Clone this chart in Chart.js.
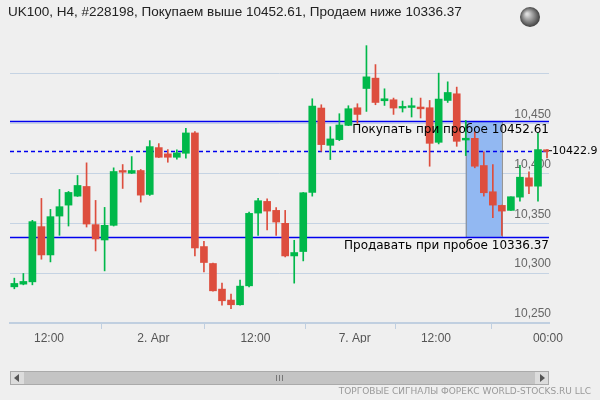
<!DOCTYPE html>
<html><head><meta charset="utf-8">
<script src="https://cdn.jsdelivr.net/npm/chart.js@4"></script>
<style>html,body{margin:0;padding:0;background:#efefef}canvas{display:block}</style>
</head><body><canvas id="c" width="600" height="400"></canvas>
<script>
const opens  = [10286.3,10289,10291.3,10346.7,10318.3,10357.3,10368.3,10377.3,10387,10348.7,10333.3,10348,10403,10400.3,10403,10379,10426,10419.7,10416.3,10420.3,10440.7,10326.7,10309.7,10284,10273,10268.3,10287.3,10360.3,10372,10363,10350,10317.3,10321.7,10381,10465.7,10428.3,10434,10448.3,10466,10485.3,10495.7,10473,10474,10465.7,10466.3,10466.3,10466,10431.3,10473.3,10480,10434,10435.3,10408,10381.7,10368,10363,10376.3,10395.7,10387.3,10423];
const highs  = [10295,10299.7,10353,10375,10364,10384,10382,10398,10410.7,10373,10366,10405.7,10409,10417,10404,10433,10430,10424,10423.7,10445.3,10442,10332,10310,10290,10279,10293,10361.3,10375,10374.7,10365.7,10363,10333,10381,10475,10469,10447,10460,10468,10470,10528.3,10509.3,10485,10475.7,10472.7,10475.7,10475.7,10473.3,10500.7,10492,10486.7,10453.3,10441.7,10421.7,10409,10368.3,10376.7,10408.3,10401.7,10440.7,10424];
const lows   = [10284.3,10288.3,10288.3,10314,10311.3,10338,10347.3,10377,10346.3,10322.3,10302.3,10347.3,10385,10400,10371.3,10378,10416,10411.3,10414.3,10415.3,10317.3,10301.3,10282,10268,10264.3,10268,10286.3,10338,10343.3,10338,10316.3,10290,10312.3,10377.3,10422.3,10414,10433,10448,10450.3,10462.3,10469,10468.3,10459.3,10461.7,10456.7,10455.7,10407.3,10429.7,10471.3,10427.3,10418,10405.7,10377.3,10355.7,10338,10363,10372.3,10379.7,10372.3,10415.7];
const closes = [10289.7,10291.7,10351.7,10318.3,10356.7,10366.7,10381,10388,10349.3,10334.3,10348,10402,10401.3,10403,10378.3,10427,10416.3,10416.3,10420.7,10440.7,10325.3,10310.7,10282.3,10272.3,10268.3,10287,10360,10372.7,10362.3,10351.3,10317.3,10320.7,10380.7,10467.7,10429,10434.7,10448.7,10465,10459.3,10497,10471.3,10475,10465.7,10467.3,10468,10465.3,10430.3,10474.7,10481.3,10432.3,10435,10407.3,10380.7,10368.3,10362.3,10376.7,10396.3,10387.3,10424,10422.9];
const tickPos = [4.84,16.4,27.7,38.7,47.7,60.1];
const tickLabels = ['12:00','2. Apr','12:00','7. Apr','12:00','00:00'];
const buyLevel = 10452.61, sellLevel = 10336.37, lastPrice = 10422.9;
const zoneFrom = 51, zoneTo = 55;
const title = 'UK100, H4, #228198, Покупаем выше 10452.61, Продаем ниже 10336.37';
const footer = 'ТОРГОВЫЕ СИГНАЛЫ ФОРЕКС WORLD-STOCKS.RU LLC';

const G='#00b84a', R='#dd4e3e';
const idx = opens.map((_,i)=>i+1);
const col = idx.map((_,i)=>closes[i]>=opens[i]?G:R);
const bodies = idx.map((x,i)=>{let a=opens[i],b=closes[i];if(Math.abs(a-b)<1.5){const m=(a+b)/2;a=m-0.9;b=m+0.9;}return {x,y:[a,b]};});
const wicks = idx.map((x,i)=>({x,y:[lows[i],highs[i]]}));

const deco = {
  id:'deco',
  beforeDatasetsDraw(ch){
    const c=ch.ctx,x=ch.scales.x,y=ch.scales.y,a=ch.chartArea;
    c.save();
    const x1=x.getPixelForValue(zoneFrom),x2=x.getPixelForValue(zoneTo);
    const y1=y.getPixelForValue(buyLevel),y2=y.getPixelForValue(sellLevel);
    c.fillStyle='#92b8f2';c.fillRect(x1,y1,x2-x1,y2-y1);
    c.strokeStyle='#8a8a8a';c.lineWidth=1;c.strokeRect(x1+0.5,y1+0.5,x2-x1,y2-y1);
    c.strokeStyle='#0000ee';c.lineWidth=1.3;
    [buyLevel,sellLevel].forEach(v=>{const p=Math.round(y.getPixelForValue(v))+0.5;c.beginPath();c.moveTo(a.left,p);c.lineTo(a.right,p);c.stroke();});
    c.setLineDash([4,3]);const p=Math.round(y.getPixelForValue(lastPrice))+0.5;
    c.beginPath();c.moveTo(a.left,p);c.lineTo(a.right,p);c.stroke();c.setLineDash([]);
    c.restore();
  },
  afterDraw(ch){
    const c=ch.ctx,y=ch.scales.y,a=ch.chartArea;
    c.save();
    c.font='12px "DejaVu Sans"';c.fillStyle='#000';c.textAlign='right';c.textBaseline='top';
    c.fillText('Покупать при пробое '+buyLevel.toFixed(2),a.right,y.getPixelForValue(buyLevel)+3);
    c.fillText('Продавать при пробое '+sellLevel.toFixed(2),a.right,y.getPixelForValue(sellLevel)+3);
    c.textAlign='left';c.textBaseline='middle';
    const lp=y.getPixelForValue(lastPrice);
    c.font='11px "DejaVu Sans"';
    c.strokeStyle='#000';c.lineWidth=1;c.beginPath();c.moveTo(a.right,lp);c.lineTo(a.right+3,lp);c.stroke();
    c.fillText(String(lastPrice),a.right+3,lp);
    c.font='13.5px "Liberation Sans"';c.fillStyle='#222';c.textBaseline='middle';
    c.fillText(title,8,12);
    const g=c.createRadialGradient(527,14,1,530,17,11);g.addColorStop(0,'#ddd');g.addColorStop(1,'#333');
    c.fillStyle=g;c.beginPath();c.arc(530,17,10,0,Math.PI*2);c.fill();
    c.fillStyle='#dcdcdc';c.fillRect(10,371,539,14);
    c.fillStyle='#c4c4c4';c.fillRect(24,372,511,12);
    c.strokeStyle='#aaa';c.strokeRect(10.5,371.5,538,13);
    c.fillStyle='#555';
    c.beginPath();c.moveTo(14,378);c.lineTo(19,374);c.lineTo(19,382);c.fill();
    c.beginPath();c.moveTo(545,378);c.lineTo(540,374);c.lineTo(540,382);c.fill();
    c.strokeStyle='#777';for(let i=0;i<3;i++){c.beginPath();c.moveTo(276.5+i*3,375);c.lineTo(276.5+i*3,381);c.stroke();}
    c.font='9px "DejaVu Sans"';c.fillStyle='#999';c.textAlign='right';c.textBaseline='middle';
    c.fillText(footer,591,392);
    c.restore();
  }
};

new Chart(document.getElementById('c'),{
  type:'bar',
  data:{datasets:[
    {data:wicks,backgroundColor:col,barThickness:1,grouped:false,order:2},
    {data:bodies,backgroundColor:col,barThickness:7,grouped:false,order:1}
  ]},
  options:{
    responsive:false,animation:false,
    layout:{padding:{left:10,right:51,top:30,bottom:57}},
    plugins:{legend:{display:false},tooltip:{enabled:false}},
    scales:{
      x:{type:'linear',min:0.52,max:60.22,offset:false,
        afterBuildTicks(s){s.ticks=tickPos.map(v=>({value:v}));},
        afterFit(s){s.height=20;},
        ticks:{autoSkip:false,maxRotation:0,color:'#555',font:{size:12,family:'Liberation Sans'},padding:2,
          callback:(v,i)=>tickLabels[i]},
        grid:{drawOnChartArea:false,drawTicks:true,tickLength:6,color:'#c0cfe0'},
        border:{color:'#c0cfe0',width:2}},
      y:{position:'right',min:10250,max:10544,
        afterBuildTicks(s){s.ticks=[10250,10300,10350,10400,10450,10500].map(v=>({value:v}));},
        afterFit(s){s.width=0;},
        ticks:{mirror:true,labelOffset:-9,padding:2,color:'#666',font:{size:12,family:'Liberation Sans'},
          callback:v=>v>=10500?'':v.toLocaleString('en-US')},
        grid:{color:'#c5d3e3',drawTicks:false},border:{display:false}}
    }
  },
  plugins:[deco]
});
</script></body></html>
